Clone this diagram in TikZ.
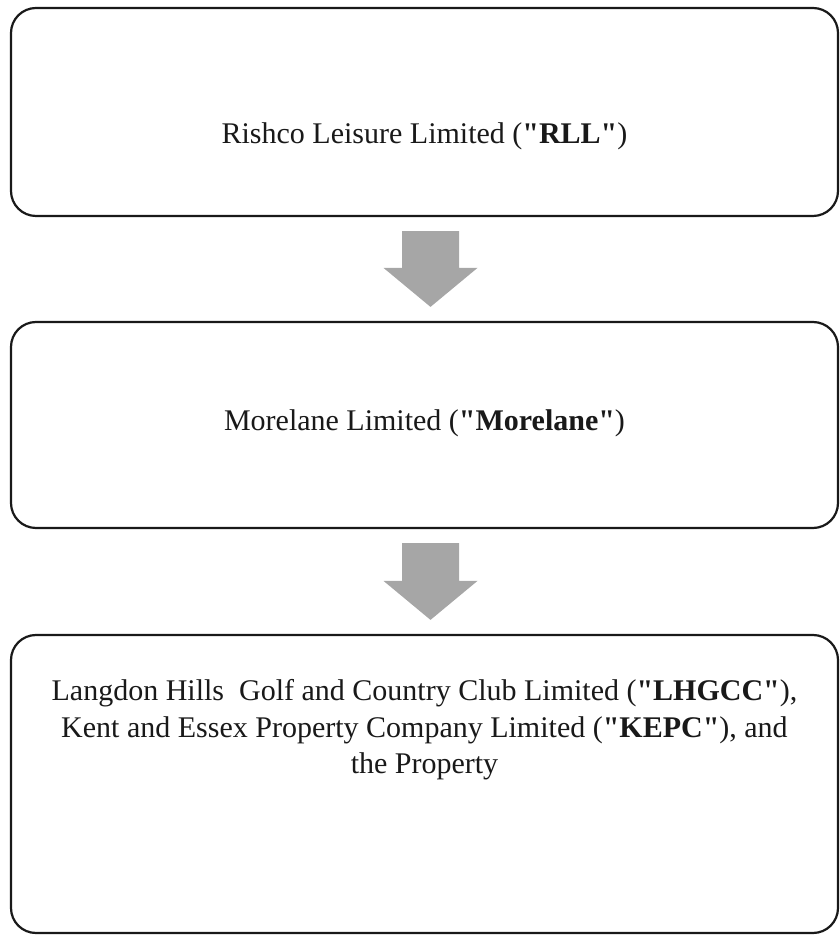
\documentclass[tikz,border=0pt]{standalone}
\usepackage{fontspec}
\setmainfont{Liberation Serif}
\usepackage{tikz}
\usetikzlibrary{positioning,calc}
\definecolor{arrowgray}{HTML}{A6A6A6}
\newcommand{\qt}[1]{\textquotedbl#1\textquotedbl}
\tikzset{
    entity box/.style={rectangle, draw=black!90, line width=2.2pt, rounded corners=25pt, fill=white},
    entity text/.style={align=center, font=\fontsize{30}{36.5}\selectfont, text=black!90},
    flow arrow/.style={fill=arrowgray, draw=none}
}

\begin{document}
\begin{tikzpicture}[x=1pt,y=1pt]
	\useasboundingbox (0,0) rectangle (840,938);
		\begin{scope}[every node/.style={entity box}]
			\node (rll) [minimum width=827pt, minimum height=208pt] at (424.5,826) {};
			\node (morelane) [minimum width=827pt, minimum height=206pt] at (424.5,513) {};
			\node (lhgcc) [minimum width=827pt, minimum height=298pt] at (424.5,154) {};
		\end{scope}
		\node[entity text] (rll text) at ([yshift=-24pt]rll.center) {Rishco Leisure Limited (\textbf{\qt{RLL}})};
		\node[entity text] (morelane text) at ([yshift=2pt]morelane.center) {Morelane Limited (\textbf{\qt{Morelane}})};
		\node[entity text, below=42pt of lhgcc.north] (lhgcc text) {Langdon Hills\ \ Golf and Country Club Limited (\textbf{\qt{LHGCC}}),\\
			Kent and Essex Property Company Limited (\textbf{\qt{KEPC}}), and\\
			the Property};
		% block arrows between the boxes
		\foreach \from/\to in {rll/morelane, morelane/lhgcc}{
			\path ([xshift=6pt,yshift=-14pt]\from.south) coordinate (top)
				([xshift=6pt,yshift=14pt]\to.north) coordinate (tip);
			\fill[flow arrow] ($(top)+(-28.5,0)$) -- ($(top)+(28.5,0)$) -- ($(tip)+(28.5,39)$)
				-- ($(tip)+(47,39)$) -- (tip) -- ($(tip)+(-47,39)$) -- ($(tip)+(-28.5,39)$) -- cycle;
		}
	\end{tikzpicture}
\end{document}
